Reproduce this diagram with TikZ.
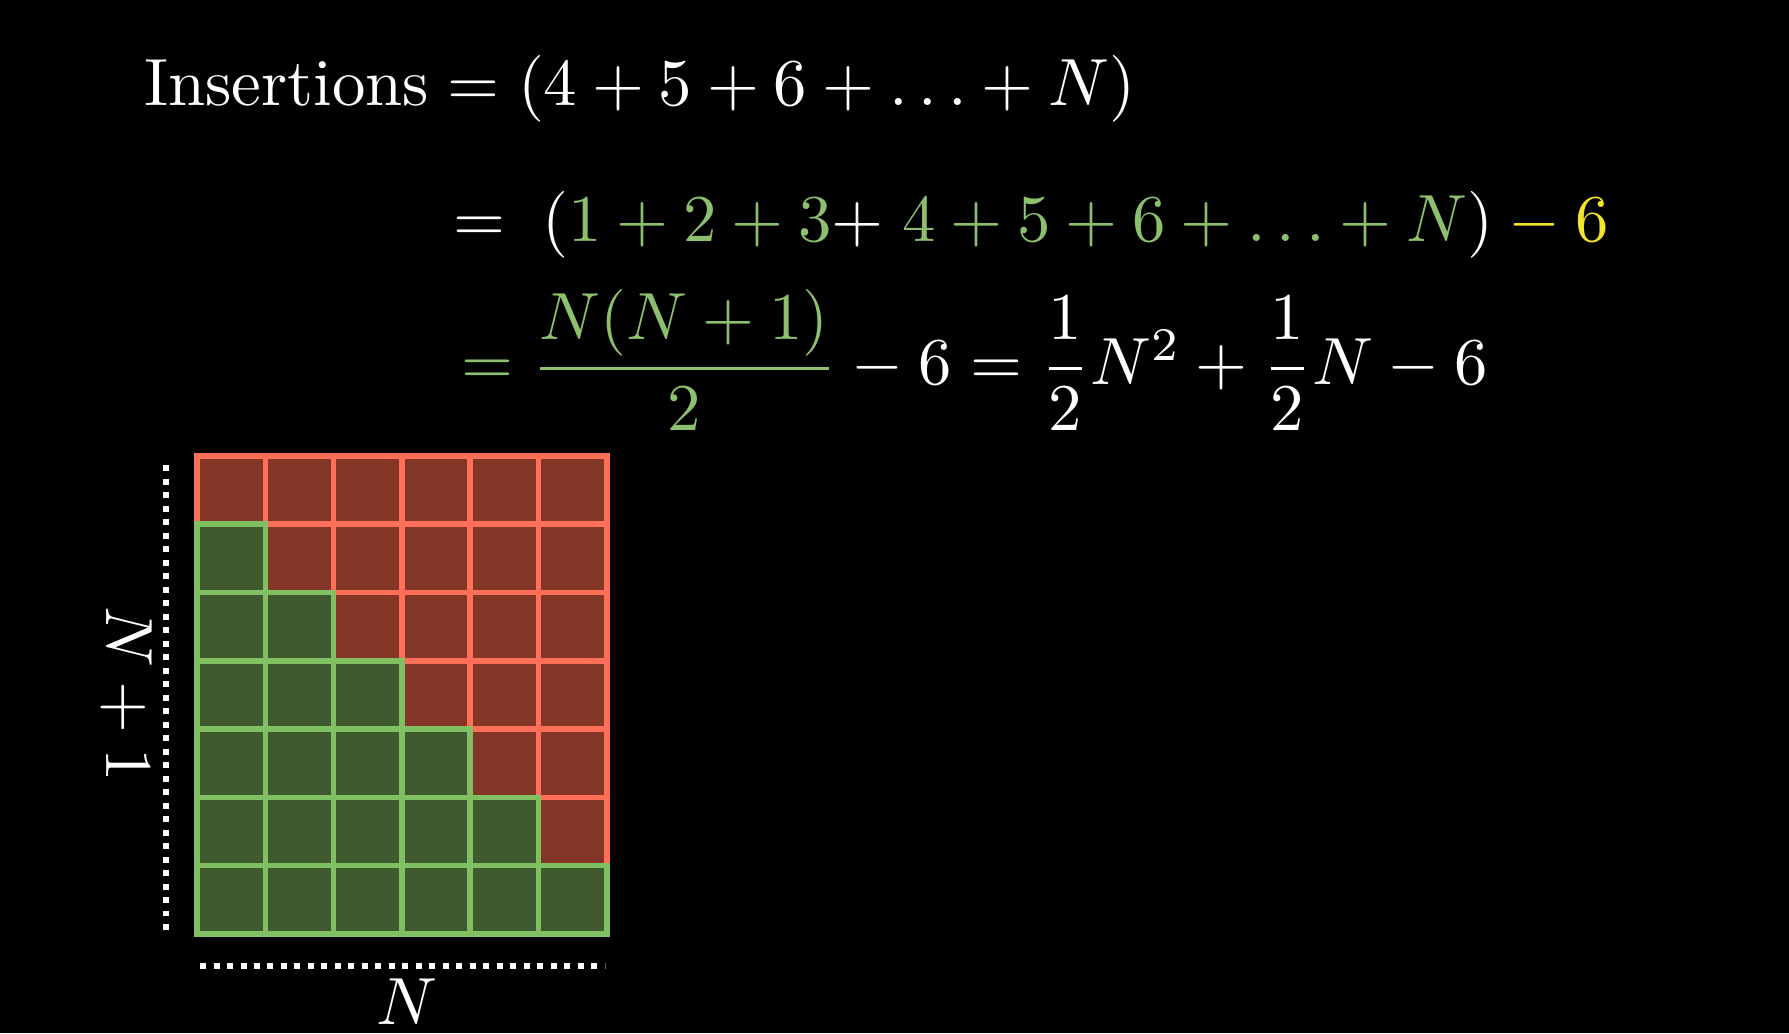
\documentclass[tikz,border=0pt]{standalone}
\usepackage{amsmath}
\usepackage{tikz}
\definecolor{cellred}{HTML}{833526}
\definecolor{edgered}{HTML}{FF6E56}
\definecolor{cellgreen}{HTML}{3E5A2E}
\definecolor{edgegreen}{HTML}{80C062}
\definecolor{eqgreen}{HTML}{8DBF6F}
\definecolor{eqyellow}{HTML}{F4E42C}
\tikzset{
	redcell/.style={fill=cellred, draw=edgered, line width=0.055cm},
	greencell/.style={fill=cellgreen, draw=edgegreen, line width=0.055cm},
	dotline/.style={white, line width=0.06cm, dash pattern=on 0.06cm off 0.075cm},
	eq/.style={text=white, inner sep=0pt, scale=1.9, transform shape}
}

\begin{document}
\begin{tikzpicture}
			%%%%% START %%%%%
			
			\fill[black] (0, 0) rectangle (17.89, 10.33);
			\useasboundingbox (0, 0) rectangle (17.89, 10.33);
			
			\node[eq, anchor=base west] (eqone) at (1.43, 9.27) {$\text{Insertions} = (4+5+6+\ldots+N)$};
			\node[eq, anchor=base west] (eqtwo) at (4.52, 7.91) {$=\;(\textcolor{eqgreen}{1+2+3}{+}\;\textcolor{eqgreen}{4+5+6+\ldots+N})\textcolor{eqyellow}{{}-6}$};
			\node[eq, anchor=base west] (eqthree) at (4.60, 6.48) {$\textcolor{eqgreen}{=\dfrac{N(N+1)}{2}} - 6 = \dfrac{1}{2}N^2 + \dfrac{1}{2}N - 6$};
			
			\begin{scope}[shift={(1.97, 0.99)}, scale=0.683]
			% red cells, top row first
			\draw[redcell] (0, 6) rectangle (1, 7);
			\draw[redcell] (1, 6) rectangle (2, 7);
			\draw[redcell] (2, 6) rectangle (3, 7);
			\draw[redcell] (3, 6) rectangle (4, 7);
			\draw[redcell] (4, 6) rectangle (5, 7);
			\draw[redcell] (5, 6) rectangle (6, 7);
			\draw[redcell] (1, 5) rectangle (2, 6);
			\draw[redcell] (2, 5) rectangle (3, 6);
			\draw[redcell] (3, 5) rectangle (4, 6);
			\draw[redcell] (4, 5) rectangle (5, 6);
			\draw[redcell] (5, 5) rectangle (6, 6);
			\draw[redcell] (2, 4) rectangle (3, 5);
			\draw[redcell] (3, 4) rectangle (4, 5);
			\draw[redcell] (4, 4) rectangle (5, 5);
			\draw[redcell] (5, 4) rectangle (6, 5);
			\draw[redcell] (3, 3) rectangle (4, 4);
			\draw[redcell] (4, 3) rectangle (5, 4);
			\draw[redcell] (5, 3) rectangle (6, 4);
			\draw[redcell] (4, 2) rectangle (5, 3);
			\draw[redcell] (5, 2) rectangle (6, 3);
			\draw[redcell] (5, 1) rectangle (6, 2);
			
			% green cells
			\draw[greencell] (0, 5) rectangle (1, 6);
			\draw[greencell] (0, 4) rectangle (1, 5);
			\draw[greencell] (1, 4) rectangle (2, 5);
			\draw[greencell] (0, 3) rectangle (1, 4);
			\draw[greencell] (1, 3) rectangle (2, 4);
			\draw[greencell] (2, 3) rectangle (3, 4);
			\draw[greencell] (0, 2) rectangle (1, 3);
			\draw[greencell] (1, 2) rectangle (2, 3);
			\draw[greencell] (2, 2) rectangle (3, 3);
			\draw[greencell] (3, 2) rectangle (4, 3);
			\draw[greencell] (0, 1) rectangle (1, 2);
			\draw[greencell] (1, 1) rectangle (2, 2);
			\draw[greencell] (2, 1) rectangle (3, 2);
			\draw[greencell] (3, 1) rectangle (4, 2);
			\draw[greencell] (4, 1) rectangle (5, 2);
			\draw[greencell] (0, 0) rectangle (1, 1);
			\draw[greencell] (1, 0) rectangle (2, 1);
			\draw[greencell] (2, 0) rectangle (3, 1);
			\draw[greencell] (3, 0) rectangle (4, 1);
			\draw[greencell] (4, 0) rectangle (5, 1);
			\draw[greencell] (5, 0) rectangle (6, 1);
			\end{scope}
			
			\draw[dotline] (1.66, 1.03) -- (1.66, 5.73);
			\draw[dotline] (2.00, 0.67) -- (6.05, 0.67);
			
			\node[eq, rotate=-90] (lblrows) at (1.27, 3.39) {$N+1$};
			\node[eq, anchor=base] (lblcols) at (4.07, 0.08) {$N$};
			
			%%%%% END %%%%%
		\end{tikzpicture}
\end{document}
